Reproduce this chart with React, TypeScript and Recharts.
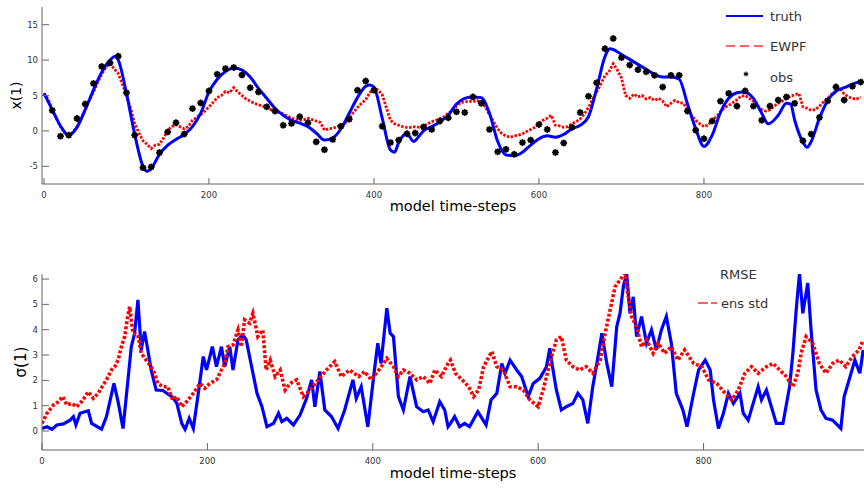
import { ComposedChart, Line, Scatter, XAxis, YAxis, Label, Legend } from "recharts";

type Pt = [number, number];

const stepTicks = [0, 200, 400, 600, 800];
const xTicks = [-5, 0, 5, 10, 15];
const sigmaTicks = [0, 1, 2, 3, 4, 5, 6];

// top panel: truth, EWPF mean, observations
const truth: Pt[] = [
  [0, 5.3], [10, 3.0], [20, 0.7], [30, -0.6], [40, 0.5], [50, 3.0], [60, 5.8], [70, 8.3], [80, 10.0], [86, 10.5],
  [90, 10.0], [100, 5.3], [110, -0.5], [120, -5.0], [125, -5.7], [130, -5.3], [140, -3.3], [150, -2.0], [160, -1.2],
  [170, -0.5], [180, 0.6], [190, 2.5], [200, 5.5], [210, 7.3], [220, 8.4], [230, 8.9], [240, 8.6], [250, 7.6],
  [260, 6.0], [270, 4.6], [280, 3.2], [290, 2.2], [300, 1.5], [310, 1.1], [320, 0.6], [330, -0.3], [340, -1.3],
  [350, -1.0], [360, 0.3], [370, 2.5], [380, 4.7], [390, 6.3], [395, 6.5], [400, 6.2], [410, 1.8], [420, -2.7],
  [425, -3.0], [430, -1.6], [440, -0.4], [448, -1.5], [455, -0.7], [460, 0.0], [470, 0.6], [480, 1.3], [490, 2.2],
  [500, 3.8], [510, 4.6], [520, 4.8], [530, 4.7], [540, 2.5], [550, -1.5], [560, -3.4], [570, -3.5], [580, -3.0],
  [590, -2.0], [600, -1.1], [610, -0.7], [620, -0.9], [630, -0.5], [640, 0.3], [650, 0.8], [660, 2.0], [670, 6.0],
  [680, 10.5], [686, 11.6], [690, 11.5], [700, 10.8], [710, 10.1], [720, 9.4], [730, 8.7], [740, 8.0], [750, 7.6],
  [760, 7.6], [770, 7.3], [780, 3.8], [790, 0.3], [800, -2.2], [810, -0.6], [820, 2.6], [830, 4.6], [840, 5.4],
  [848, 5.5], [860, 4.6], [870, 2.5], [878, 1.0], [890, 2.2], [900, 3.9], [905, 3.8], [910, 1.5], [920, -1.6],
  [925, -2.3], [930, -1.5], [940, 1.8], [950, 4.3], [960, 5.6], [970, 6.1], [980, 6.6], [990, 7.0],
];

const ewpf: Pt[] = [
  [0, 5.3], [5, 4.5], [10, 3.0], [15, 1.8], [20, 0.6], [25, -0.3], [30, -0.5], [35, -0.2], [40, 0.6], [45, 1.8],
  [50, 3.0], [55, 4.3], [60, 5.5], [65, 6.8], [70, 8.0], [75, 9.0], [80, 9.5], [85, 8.8], [90, 8.1], [95, 6.6],
  [100, 5.0], [105, 3.2], [110, 1.0], [115, -0.3], [120, -1.4], [125, -1.9], [130, -2.5], [135, -2.0], [140, -1.9],
  [145, -1.0], [150, 0.1], [155, 0.6], [160, 0.9], [165, 0.6], [170, 0.3], [175, 0.6], [180, 1.5], [185, 1.9],
  [190, 2.3], [195, 2.8], [200, 3.4], [205, 4.0], [210, 4.7], [215, 5.0], [220, 5.6], [225, 5.4], [230, 6.1],
  [235, 5.5], [240, 5.0], [245, 4.5], [250, 4.2], [255, 3.9], [260, 3.7], [265, 3.5], [270, 3.4], [275, 3.0],
  [280, 2.8], [285, 2.6], [290, 2.4], [295, 2.1], [300, 1.8], [305, 1.6], [310, 1.5], [315, 1.6], [320, 1.8],
  [325, 1.6], [330, 1.4], [335, 1.2], [340, 0.1], [345, 0.3], [350, 0.35], [355, 0.6], [360, 0.8], [365, 1.1],
  [370, 1.8], [375, 2.6], [380, 3.3], [385, 3.9], [390, 4.4], [395, 5.4], [400, 6.0], [405, 5.8], [410, 5.1],
  [415, 3.3], [420, 1.5], [425, 1.0], [430, 0.8], [435, 0.6], [440, 0.5], [445, 0.5], [450, 0.6], [455, 0.5],
  [460, 0.7], [465, 1.0], [470, 1.3], [475, 1.5], [480, 1.7], [485, 2.0], [490, 2.5], [495, 2.9], [500, 3.5],
  [505, 4.0], [510, 4.1], [515, 4.2], [520, 4.1], [525, 4.3], [530, 4.0], [535, 3.4], [540, 2.3], [545, 1.3],
  [550, 0.3], [555, -0.4], [560, -0.7], [565, -0.9], [570, -0.7], [575, -0.6], [580, -0.4], [585, -0.1], [590, 0.2],
  [595, 0.5], [600, 1.0], [605, 1.5], [610, 1.8], [615, 2.2], [620, 0.8], [625, 0.7], [630, 0.5], [635, 0.6],
  [640, 1.0], [645, 1.3], [650, 1.7], [655, 2.4], [660, 3.3], [665, 4.5], [670, 5.5], [675, 6.6], [680, 7.8],
  [685, 8.4], [690, 9.5], [695, 8.6], [700, 7.5], [705, 5.0], [710, 4.6], [715, 5.2], [720, 4.8], [725, 5.0],
  [730, 4.5], [735, 4.7], [740, 4.3], [745, 4.6], [750, 4.2], [755, 3.4], [760, 3.9], [765, 4.3], [770, 4.0],
  [775, 3.9], [780, 3.1], [785, 2.2], [790, 1.5], [795, 1.0], [800, 0.6], [805, 0.8], [810, 1.5], [815, 2.0],
  [820, 2.7], [825, 3.3], [830, 3.6], [835, 4.0], [840, 4.4], [845, 4.9], [850, 5.0], [855, 4.6], [860, 4.2],
  [865, 3.5], [870, 3.0], [875, 2.8], [880, 3.0], [885, 3.5], [890, 3.9], [895, 4.2], [900, 4.6], [905, 4.9],
  [910, 5.1], [915, 5.3], [920, 3.4], [925, 3.2], [930, 2.9], [935, 3.0], [940, 3.5], [945, 4.1], [950, 4.6],
  [955, 5.2], [960, 5.6], [965, 6.0], [970, 5.2], [975, 4.8], [980, 4.6], [985, 4.5], [990, 4.8],
];

const obs: Pt[] = [
  [10, 2.9], [20, -0.75], [30, -0.6], [40, 1.75], [50, 3.8], [60, 6.7], [70, 9.1], [80, 9.6], [90, 10.55],
  [100, 5.4], [110, -0.6], [120, -5.2], [130, -5.1], [140, -3.05], [150, -0.15], [160, 1.15], [170, -0.45],
  [180, 3.15], [190, 3.95], [200, 5.65], [210, 8.0], [220, 8.8], [230, 8.95], [240, 7.9], [250, 6.1], [260, 5.5],
  [270, 3.4], [280, 2.8], [290, 0.8], [300, 1.05], [310, 2.0], [320, 1.15], [330, -1.55], [340, -2.65], [350, -1.2],
  [360, 0.65], [370, 1.65], [380, 5.75], [390, 7.05], [400, 5.75], [410, 0.65], [420, -1.65], [430, -1.3],
  [440, -0.4], [450, -0.3], [460, 0.55], [470, 0.2], [480, 1.4], [490, 1.85], [500, 2.7], [510, 2.6], [520, 4.8],
  [530, 3.9], [540, 0.2], [550, -2.95], [560, -2.6], [570, -3.3], [580, -1.65], [590, -1.3], [600, 0.9], [610, 0.2],
  [620, -3.05], [630, -1.7], [640, 0.5], [650, 2.6], [660, 4.9], [670, 6.8], [680, 11.6], [690, 13.05], [700, 10.35],
  [710, 9.3], [720, 8.65], [730, 8.35], [740, 7.85], [750, 6.2], [760, 7.85], [770, 7.85], [780, 2.8], [790, 0.1],
  [800, -1.1], [810, 1.4], [820, 4.2], [830, 5.3], [840, 3.5], [850, 5.65], [860, 3.5], [870, 1.5], [880, 3.5],
  [890, 4.35], [900, 4.8], [910, 3.9], [920, -1.4], [930, -0.45], [940, 1.9], [950, 4.25], [960, 6.2], [970, 4.35],
  [980, 6.3], [990, 6.9],
];

// bottom panel: RMSE and ensemble spread
const rmse: Pt[] = [
  [0, 0.1], [6, 0.17], [12, 0.07], [18, 0.24], [26, 0.28], [34, 0.43], [38, 0.57], [41, 0.24], [46, 0.7], [56, 0.8],
  [60, 0.3], [72, 0.07], [78, 0.57], [87, 1.88], [92, 1.16], [98, 0.1], [108, 3.33], [112, 3.86], [116, 5.18],
  [120, 3.2], [124, 3.93], [128, 3.2], [132, 2.41], [138, 1.62], [146, 1.6], [157, 1.36], [163, 1.1], [169, 0.3],
  [173, 0.07], [178, 0.5], [183, 0.1], [189, 1.49], [195, 2.94], [199, 2.41], [206, 3.33], [211, 2.54], [217, 3.33],
  [221, 2.54], [227, 3.33], [231, 2.41], [237, 3.6], [243, 3.79], [247, 3.6], [251, 2.94], [260, 1.49], [266, 0.96],
  [272, 0.17], [280, 0.3], [286, 0.7], [290, 0.37], [296, 0.5], [304, 0.24], [312, 0.63], [320, 1.29], [326, 2.02],
  [330, 0.96], [336, 2.35], [342, 0.83], [350, 0.57], [358, 0.1], [366, 0.83], [376, 2.02], [380, 1.29], [386, 1.75],
  [394, 0.17], [402, 2.41], [406, 3.47], [410, 2.67], [417, 4.85], [421, 3.86], [425, 3.73], [431, 1.36], [437, 0.83],
  [445, 2.15], [453, 0.96], [461, 0.76], [467, 0.83], [473, 0.37], [481, 1.16], [487, 0.83], [491, 0.17], [494, 0.3],
  [499, 0.57], [505, 0.17], [511, 0.3], [517, 0.17], [527, 0.76], [537, 0.24], [543, 1.23], [550, 1.49], [556, 2.67],
  [560, 2.28], [566, 2.8], [574, 2.41], [580, 2.15], [588, 1.36], [594, 1.88], [602, 2.08], [610, 2.54], [614, 3.27],
  [618, 2.41], [622, 1.62], [628, 0.83], [634, 0.96], [642, 1.09], [648, 1.49], [654, 1.23], [660, 0.3], [666, 1.75],
  [671, 2.67], [677, 3.86], [683, 2.67], [689, 1.75], [695, 4.12], [699, 4.65], [703, 5.7], [707, 6.23], [711, 4.65],
  [715, 5.3], [719, 3.73], [725, 4.52], [731, 3.47], [737, 3.99], [743, 3.2], [749, 3.99], [755, 4.52], [761, 3.47],
  [767, 1.49], [775, 0.83], [780, 0.17], [788, 1.49], [794, 2.41], [802, 2.8], [808, 2.41], [812, 1.23], [818, 0.1],
  [824, 0.7], [830, 1.49], [836, 1.09], [844, 1.49], [848, 0.7], [854, 0.43], [860, 1.09], [866, 1.75], [870, 1.23],
  [876, 1.62], [882, 0.96], [888, 0.3], [896, 0.3], [904, 1.75], [908, 3.07], [912, 4.78], [916, 6.23], [920, 4.65],
  [926, 5.84], [930, 3.99], [936, 1.62], [942, 0.83], [948, 0.5], [956, 0.43], [966, 0.1], [970, 1.36], [976, 2.02],
  [983, 2.8], [989, 2.28], [993, 3.2],
];

const ensStd: Pt[] = [
  [0, 0.3], [6, 0.7], [14, 1.03], [20, 1.16], [25, 1.36], [30, 1.03], [36, 1.09], [42, 0.96], [48, 1.16], [56, 1.55],
  [62, 1.29], [68, 1.49], [74, 1.82], [78, 2.02], [84, 2.41], [88, 2.54], [92, 2.8], [96, 3.33], [100, 3.73],
  [103, 4.39], [106, 4.91], [110, 3.86], [116, 3.79], [120, 3.07], [126, 2.8], [132, 2.54], [136, 2.28], [140, 1.88],
  [146, 1.75], [152, 1.75], [158, 1.23], [163, 1.36], [169, 0.96], [175, 1.16], [183, 1.49], [191, 1.88], [197, 1.69],
  [203, 1.88], [211, 2.02], [217, 2.41], [221, 2.67], [225, 3.33], [231, 3.4], [237, 3.99], [241, 3.33], [245, 4.39],
  [251, 4.26], [255, 4.65], [261, 3.73], [267, 3.99], [271, 2.41], [276, 2.8], [282, 2.15], [288, 2.41], [294, 1.62],
  [300, 1.88], [308, 2.02], [316, 1.36], [324, 1.62], [334, 2.02], [344, 2.41], [354, 2.74], [362, 2.15], [372, 2.41],
  [383, 2.15], [390, 2.35], [398, 2.02], [409, 2.48], [417, 2.87], [425, 2.54], [431, 2.15], [437, 2.41], [445, 2.28],
  [453, 2.02], [461, 2.15], [469, 1.88], [475, 2.41], [483, 2.15], [491, 2.67], [494, 2.8], [500, 2.28], [508, 2.02],
  [516, 1.75], [522, 1.36], [528, 1.62], [534, 2.54], [544, 3.14], [550, 2.54], [558, 2.41], [566, 1.75], [574, 1.75],
  [582, 1.62], [590, 1.23], [600, 0.96], [606, 1.62], [614, 2.67], [622, 3.6], [628, 3.73], [634, 2.8], [642, 2.54],
  [650, 2.41], [658, 2.54], [666, 2.28], [675, 2.8], [681, 3.86], [687, 4.78], [693, 5.7], [699, 5.97], [705, 6.23],
  [709, 5.3], [713, 4.52], [719, 4.12], [725, 3.33], [731, 3.6], [739, 3.07], [745, 3.47], [753, 3.07], [761, 3.33],
  [769, 2.8], [777, 3.2], [788, 2.67], [798, 2.54], [806, 2.02], [816, 1.88], [826, 1.49], [834, 1.23], [842, 1.62],
  [850, 2.28], [858, 2.54], [866, 2.28], [876, 2.54], [884, 2.67], [892, 2.41], [900, 2.15], [908, 1.75], [914, 2.28],
  [918, 3.07], [924, 3.73], [932, 3.47], [940, 2.67], [948, 2.28], [956, 2.67], [964, 2.8], [972, 2.54], [980, 2.94],
  [988, 3.2], [993, 3.6],
];

const rows = (pts: Pt[]) => pts.map(([t, v]) => ({ t, v }));

const font = "DejaVu Sans, sans-serif";
const tickStyle = { fill: "#333", fontSize: 8.5, fontFamily: font };
const axisLabelStyle = { fontSize: 14.5, fill: "#000", fontFamily: font };

function ObsStar(props: any) {
  const { cx, cy } = props;
  if (cx == null || cy == null) return null;
  const r = 3.4;
  const d = r * 0.7;
  return (
    <g stroke="#000" strokeWidth={1.8}>
      <line x1={cx - r} y1={cy} x2={cx + r} y2={cy} />
      <line x1={cx} y1={cy - r} x2={cx} y2={cy + r} />
      <line x1={cx - d} y1={cy - d} x2={cx + d} y2={cy + d} />
      <line x1={cx - d} y1={cy + d} x2={cx + d} y2={cy - d} />
      <circle cx={cx} cy={cy} r={2.6} fill="#000" stroke="none" />
    </g>
  );
}

function TopLegend() {
  const txt = { fontFamily: font, fontSize: 13, fill: "#333" };
  return (
    <svg width={140} height={90} style={{ display: "block" }}>
      <line x1={4} y1={12} x2={41} y2={12} stroke="#0000ff" strokeWidth={2} />
      <text x={48} y={16.7} {...txt}>truth</text>
      <line x1={4} y1={42} x2={41} y2={42} stroke="#ff3030" strokeWidth={1.5} strokeDasharray="9 5" />
      <text x={48} y={46.7} {...txt}>EWPF</text>
      <g stroke="#000" strokeWidth={1.1}>
        <line x1={24} y1={67.5} x2={24} y2={72.5} />
        <line x1={21.8} y1={68.7} x2={26.2} y2={71.3} />
        <line x1={21.8} y1={71.3} x2={26.2} y2={68.7} />
      </g>
      <text x={48} y={77.7} {...txt}>obs</text>
    </svg>
  );
}

function BottomLegend() {
  const txt = { fontFamily: font, fontSize: 13, fill: "#333" };
  return (
    <svg width={140} height={60} style={{ display: "block" }}>
      <text x={30} y={18.7} {...txt}>RMSE</text>
      <line x1={8} y1={43} x2={27} y2={43} stroke="#ff3030" strokeWidth={1.5} strokeDasharray="10 3" />
      <text x={31} y={47.7} {...txt}>ens std</text>
    </svg>
  );
}

export default function App() {
  return (
    <div style={{ position: "absolute", left: 0, top: 0, width: 864, height: 488, background: "#fff" }}>
      <div style={{ position: "absolute", left: 0, top: 0 }}>
        <ComposedChart width={864} height={232} margin={{ top: 7, right: 0, bottom: 18, left: 0 }}>
          <XAxis
            dataKey="t"
            type="number"
            domain={[-2.4, 994]}
            allowDataOverflow
            ticks={stepTicks}
            interval={0}
            height={30}
            tickSize={-6}
            tickMargin={14}
            stroke="#666"
            tick={tickStyle}
          >
            <Label value="model time-steps" position="insideBottom" offset={3} style={axisLabelStyle} />
          </XAxis>
          <YAxis
            type="number"
            domain={[-7.5, 17.5]}
            allowDataOverflow
            ticks={xTicks}
            interval={0}
            width={42}
            tickSize={-7}
            tickMargin={11}
            stroke="#666"
            tick={tickStyle}
          >
            <Label
              value="x(1)"
              angle={-90}
              position="insideLeft"
              offset={16}
              style={{ ...axisLabelStyle, fontSize: 14, textAnchor: "middle" }}
            />
          </YAxis>
          <Legend
            content={<TopLegend />}
            layout="horizontal"
            verticalAlign="middle"
            align="center"
            wrapperStyle={{ left: 722, top: 4, width: 140 }}
          />
          <Line
            data={rows(ewpf)}
            dataKey="v"
            type="linear"
            stroke="#ff0000"
            strokeWidth={2.8}
            strokeDasharray="2.5 1.5"
            dot={false}
            isAnimationActive={false}
          />
          <Line
            data={rows(truth)}
            dataKey="v"
            type="monotone"
            stroke="#0000ff"
            strokeWidth={3}
            dot={false}
            isAnimationActive={false}
          />
          <Scatter data={rows(obs)} dataKey="v" shape={<ObsStar />} isAnimationActive={false} />
        </ComposedChart>
      </div>

      <div style={{ position: "absolute", left: 0, top: 240 }}>
        <ComposedChart width={864} height={248} margin={{ top: 34, right: 0, bottom: 8, left: 0 }}>
          <XAxis
            dataKey="t"
            type="number"
            domain={[0, 994]}
            allowDataOverflow
            ticks={stepTicks}
            interval={0}
            height={30}
            tickSize={-7}
            tickMargin={15}
            stroke="#666"
            tick={tickStyle}
          >
            <Label value="model time-steps" position="insideBottom" offset={2} style={axisLabelStyle} />
          </XAxis>
          <YAxis
            type="number"
            domain={[-0.75, 6.2]}
            allowDataOverflow
            ticks={sigmaTicks}
            interval={0}
            width={42}
            tickSize={-7}
            tickMargin={11}
            stroke="#666"
            tick={tickStyle}
          >
            <Label
              value="σ(1)"
              angle={-90}
              position="insideLeft"
              offset={21}
              style={{ ...axisLabelStyle, fontSize: 15, textAnchor: "middle" }}
            />
          </YAxis>
          <Legend
            content={<BottomLegend />}
            layout="horizontal"
            verticalAlign="middle"
            align="center"
            wrapperStyle={{ left: 690, top: 20, width: 140 }}
          />
          <Line
            data={rows(rmse)}
            dataKey="v"
            type="linear"
            stroke="#0000ff"
            strokeWidth={3.2}
            dot={false}
            isAnimationActive={false}
          />
          <Line
            data={rows(ensStd)}
            dataKey="v"
            type="linear"
            stroke="#ff0000"
            strokeWidth={3.6}
            strokeDasharray="3 2"
            dot={false}
            isAnimationActive={false}
          />
        </ComposedChart>
      </div>
    </div>
  );
}
